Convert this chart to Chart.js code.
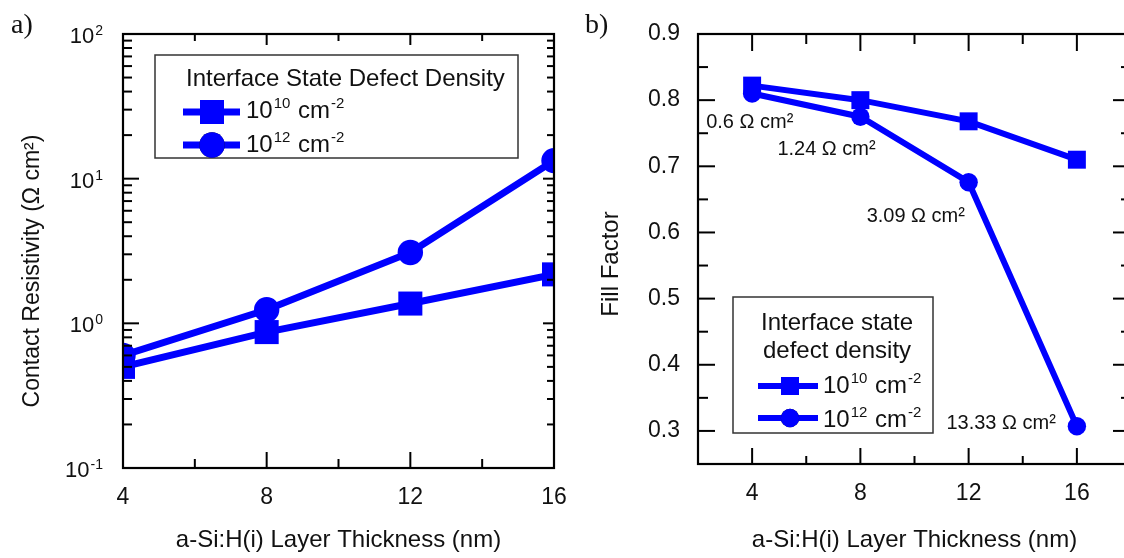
<!DOCTYPE html>
<html>
<head>
<meta charset="utf-8">
<script src="https://cdn.jsdelivr.net/npm/chart.js@4.4.1/dist/chart.umd.min.js"></script>
<style>
  html, body { margin: 0; padding: 0; background: #fff; overflow: hidden; }
  body { width: 1124px; height: 558px; position: relative; }
  #chartA { position: absolute; left: 0; top: 0; }
  #chartB { position: absolute; left: 566px; top: 0; }
</style>
</head>
<body>
<canvas id="chartA" width="572" height="558"></canvas>
<canvas id="chartB" width="600" height="558"></canvas>
<script>
// a-Si:H(i) layer thickness (nm)
var thickness = [4, 8, 12, 16];

// a) contact resistivity (Ohm cm^2)
var resistLow = [0.50, 0.87, 1.37, 2.18];    // 10^10 cm^-2
var resistHigh = [0.6, 1.24, 3.09, 13.33];   // 10^12 cm^-2

// b) fill factor
var fillLow = [0.822, 0.800, 0.768, 0.710];
var fillHigh = [0.810, 0.775, 0.676, 0.307];

// axis ticks
var xTicks = [4, 8, 12, 16];
var xMinor = [6, 10, 14];
var yTicksA = [0.1, 1, 10, 100];
var yTicksB = [0.3, 0.4, 0.5, 0.6, 0.7, 0.8, 0.9];
var yMinorB = [0.25, 0.35, 0.45, 0.55, 0.65, 0.75, 0.85];

// legend entries: exponent of the defect density
var densityExp = ['10', '12'];

var BLUE = '#0000ff';
var INK = '#111';
var SANS = '"Liberation Sans", Arial, sans-serif';
var SERIF = '"Liberation Serif", "Times New Roman", serif';

function points(ys) {
  return thickness.map(function (t, i) { return { x: t, y: ys[i] }; });
}

// draws text runs left to right, runs flagged sup are smaller and raised
function runs(ctx, x, y, parts, size, supSize, raise, measureOnly) {
  var cx = x;
  parts.forEach(function (p) {
    ctx.font = (p[1] ? supSize : size) + 'px ' + SANS;
    if (!measureOnly) ctx.fillText(p[0], cx, p[1] ? y - raise : y);
    cx += ctx.measureText(p[0]).width + 1;
  });
  return cx - x;
}

function tick(ctx, x1, y1, x2, y2) {
  ctx.beginPath();
  ctx.moveTo(x1, y1);
  ctx.lineTo(x2, y2);
  ctx.stroke();
}

// box, inward ticks on all four sides
function drawFrame(chart, yMajor, yMinor, len) {
  var ctx = chart.ctx, a = chart.chartArea, xs = chart.scales.x, ys = chart.scales.y;
  ctx.save();
  ctx.strokeStyle = '#000';
  ctx.lineWidth = 2;
  xTicks.concat(xMinor).forEach(function (v) {
    var px = xs.getPixelForValue(v);
    var major = xTicks.indexOf(v) >= 0;
    tick(ctx, px, a.bottom, px, a.bottom - (major ? len.bottom[0] : len.bottom[1]));
    tick(ctx, px, a.top, px, a.top + (major ? len.top[0] : len.top[1]));
  });
  yMajor.concat(yMinor).forEach(function (v) {
    var py = ys.getPixelForValue(v);
    var major = yMajor.indexOf(v) >= 0;
    tick(ctx, a.left, py, a.left + (major ? len.left[0] : len.left[1]), py);
    tick(ctx, a.right, py, a.right - (major ? len.right[0] : len.right[1]), py);
  });
  ctx.lineWidth = 2.2;
  ctx.strokeRect(a.left, a.top, a.right - a.left, a.bottom - a.top);
  ctx.restore();
}

// legend box with two line+marker samples
function drawLegend(chart, box, title, rows, sample, markerX, textX, fontSize) {
  var ctx = chart.ctx;
  ctx.save();
  ctx.fillStyle = '#fff';
  ctx.fillRect(box[0], box[1], box[2] - box[0], box[3] - box[1]);
  ctx.strokeStyle = '#333';
  ctx.lineWidth = 1.5;
  ctx.strokeRect(box[0], box[1], box[2] - box[0], box[3] - box[1]);
  ctx.fillStyle = INK;
  ctx.textBaseline = 'alphabetic';
  title.forEach(function (t) {
    ctx.font = fontSize + 'px ' + SANS;
    ctx.textAlign = t[3] || 'left';
    ctx.fillText(t[0], t[1], t[2]);
  });
  ctx.textAlign = 'left';
  chart.data.datasets.forEach(function (ds, i) {
    var r = rows[i];
    ctx.strokeStyle = ds.borderColor;
    ctx.lineWidth = ds.borderWidth;
    tick(ctx, sample[0], r[0], sample[1], r[0]);
    Chart.helpers.drawPoint(ctx, {
      pointStyle: ds.pointStyle, radius: ds.pointRadius, borderWidth: 0
    }, markerX, r[0]);
    ctx.fillStyle = BLUE;
    ctx.fill();
    ctx.fillStyle = INK;
    runs(ctx, textX, r[1], [['10', false], [densityExp[i], true], [' cm', false], ['-2', true]],
      fontSize, 15, 10);
  });
  ctx.restore();
}

function commonScales(xHeight, yWidth) {
  return {
    x: {
      type: 'linear', min: 2, max: 18,
      afterBuildTicks: function (s) { s.ticks = xTicks.map(function (v) { return { value: v }; }); },
      afterFit: function (s) { s.height = xHeight; s.paddingLeft = 0; s.paddingRight = 0; },
      grid: { display: false, drawTicks: false },
      border: { display: false },
      ticks: { color: INK, padding: 16, font: { family: SANS, size: 23 }, maxRotation: 0, autoSkip: false },
      title: {
        display: true, text: 'a-Si:H(i) Layer Thickness (nm)', color: INK,
        font: { family: SANS, size: 24 }, padding: { top: 0, bottom: 3 }
      }
    },
    y: {
      afterFit: function (s) { s.width = yWidth; s.paddingTop = 0; s.paddingBottom = 0; },
      grid: { display: false, drawTicks: false },
      border: { display: false },
      ticks: { color: INK, padding: 18, font: { family: SANS, size: 23 } }
    }
  };
}

var scalesA = commonScales(90, 123);
scalesA.x.min = 4;
scalesA.x.max = 16;
scalesA.y.type = 'logarithmic';
scalesA.y.min = 0.1;
scalesA.y.max = 100;
scalesA.y.afterBuildTicks = function (s) { s.ticks = yTicksA.map(function (v) { return { value: v }; }); };
scalesA.y.ticks.display = false;

var minorA = [];
[0.1, 1, 10].forEach(function (d) {
  for (var k = 2; k <= 9; k++) minorA.push(d * k);
});

new Chart(document.getElementById('chartA'), {
  type: 'line',
  data: {
    datasets: [
      { label: '10^10 cm^-2', data: points(resistLow), borderColor: BLUE, backgroundColor: BLUE,
        borderWidth: 7, pointStyle: 'rect', pointRadius: 17, pointBorderWidth: 0 },
      { label: '10^12 cm^-2', data: points(resistHigh), borderColor: BLUE, backgroundColor: BLUE,
        borderWidth: 7, pointStyle: 'circle', pointRadius: 12.7, pointBorderWidth: 0 }
    ]
  },
  options: {
    responsive: false, animation: false, devicePixelRatio: 1,
    layout: { padding: { left: 0, right: 18, top: 34, bottom: 0 } },
    plugins: { legend: { display: false }, tooltip: { enabled: false } },
    scales: scalesA
  },
  plugins: [{
    id: 'panelA',
    afterDraw: function (chart) {
      var ctx = chart.ctx, a = chart.chartArea, ys = chart.scales.y;
      drawFrame(chart, yTicksA, minorA, { bottom: [16, 9], left: [16, 9], top: [11, 7], right: [11, 7] });
      ctx.save();
      ctx.fillStyle = INK;
      ctx.textBaseline = 'alphabetic';
      // 10^n tick labels
      yTicksA.forEach(function (v) {
        var py = ys.getPixelForValue(v);
        var parts = [['10', false], [String(Math.round(Math.log10(v))), true]];
        var w = runs(ctx, 0, 0, parts, 22, 14, 8, true);
        runs(ctx, a.left - 19 - w, py + 9, parts, 22, 14, 8);
      });
      // axis title
      ctx.save();
      ctx.font = '23px ' + SANS;
      ctx.textAlign = 'center';
      ctx.translate(39, 271);
      ctx.rotate(-Math.PI / 2);
      ctx.fillText('Contact Resistivity (\u03A9 cm\u00B2)', 0, 0);
      ctx.restore();
      ctx.font = '28px ' + SERIF;
      ctx.fillText('a)', 11, 33);
      ctx.restore();
      drawLegend(chart, [155, 55, 518, 158],
        [['Interface State Defect Density', 186, 86]],
        [[112, 118], [145, 152]], [183, 240], 212, 246, 24);
    }
  }]
});

var scalesB = commonScales(94, 132);
scalesB.y.type = 'linear';
scalesB.y.min = 0.25;
scalesB.y.max = 0.9;
scalesB.y.afterBuildTicks = function (s) { s.ticks = yTicksB.map(function (v) { return { value: v }; }); };
scalesB.y.ticks.callback = function (v) { return v.toFixed(1); };

// where each resistivity note sits relative to its point
var noteOffsets = [[-46, 34, 'left'], [-83, 38, 'left'], [-102, 40, 'left'], [-21, 3, 'right']];

new Chart(document.getElementById('chartB'), {
  type: 'line',
  data: {
    datasets: [
      { label: '10^10 cm^-2', data: points(fillLow), borderColor: BLUE, backgroundColor: BLUE,
        borderWidth: 6, pointStyle: 'rect', pointRadius: 12.7, pointBorderWidth: 0 },
      { label: '10^12 cm^-2', data: points(fillHigh), borderColor: BLUE, backgroundColor: BLUE,
        borderWidth: 6, pointStyle: 'circle', pointRadius: 9.2, pointBorderWidth: 0 }
    ]
  },
  options: {
    responsive: false, animation: false, devicePixelRatio: 1,
    layout: { padding: { left: 0, right: 35, top: 34, bottom: 0 } },
    plugins: { legend: { display: false }, tooltip: { enabled: false } },
    scales: scalesB
  },
  plugins: [{
    id: 'panelB',
    afterDraw: function (chart) {
      var ctx = chart.ctx;
      drawFrame(chart, yTicksB, yMinorB, { bottom: [16, 8], left: [17, 10], top: [17, 10], right: [18, 10] });
      ctx.save();
      ctx.fillStyle = INK;
      ctx.textBaseline = 'alphabetic';
      // resistivity of each 10^12 point
      var pts = chart.getDatasetMeta(1).data;
      resistHigh.forEach(function (v, i) {
        var o = noteOffsets[i];
        ctx.font = '20px ' + SANS;
        ctx.textAlign = o[2];
        ctx.fillText(v + ' \u03A9 cm\u00B2', pts[i].x + o[0], pts[i].y + o[1]);
      });
      ctx.textAlign = 'center';
      ctx.save();
      ctx.font = '24px ' + SANS;
      ctx.translate(52, 264);
      ctx.rotate(-Math.PI / 2);
      ctx.fillText('Fill Factor', 0, 0);
      ctx.restore();
      ctx.textAlign = 'left';
      ctx.font = '28px ' + SERIF;
      ctx.fillText('b)', 19, 33);
      ctx.restore();
      drawLegend(chart, [167, 297, 367, 433],
        [['Interface state', 271, 330, 'center'], ['defect density', 271, 358, 'center']],
        [[386, 393], [418, 427]], [192, 252], 224, 257, 24);
    }
  }]
});
</script>
</body>
</html>
